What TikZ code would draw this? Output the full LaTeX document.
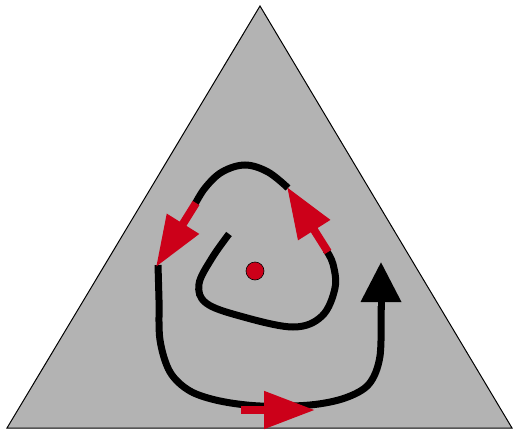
\documentclass[tikz,border=0pt]{standalone}
\usepackage{xcolor}
\usepackage{tikz}
\usetikzlibrary{
  arrows.meta,
  calc
}
\definecolor{spFill}{HTML}{B3B3B3}
\definecolor{spRed}{HTML}{CC0019}
\tikzset{
  plate/.style={draw=black, line width=1pt, fill=spFill, line join=miter},
  spiral/.style={line width=7pt, black, line cap=butt},
  redarrow/.style={-{Triangle[length=51pt, width=36pt]}, line width=8pt, spRed},
  blackarrow/.style={-{Triangle[length=40pt, width=39pt]}, line width=7pt, black},
  centre/.style={circle, fill=spRed, draw=black, line width=0.6pt, minimum size=18pt, inner sep=0pt}
}

\begin{document}
\begin{tikzpicture}[x=1pt, y=-1pt]
  \useasboundingbox (0,0) rectangle (513,433);
  % triangle
  \coordinate (top) at (260,6);
  \coordinate (bl) at (7,428);
  \coordinate (br) at (512,428);
  \draw[plate] (top) -- (br) -- (bl) -- cycle;

  \node[centre] (pole) at (255,271) {};

  % spiral, inner part to outer part
  \draw[spiral] plot[smooth, tension=0.6] coordinates {
    (229,234) (212,258) (199,284) (206,303) (240,316) (293,327)
    (322,316) (335,288) (333,264) (326,250)};
  \draw[spiral] plot[smooth, tension=0.6] coordinates {
    (288,188) (268,172) (245,165) (222,172) (205,188) (194,206)};
  \draw[spiral] plot[smooth, tension=0.55] coordinates {
    (158,265) (159,300) (160,340) (170,372) (190,391) (220,401)
    (260,406) (310,405) (345,398) (369,384) (380,356) (381,306)};

  % arrows on the spiral
  \coordinate (ra1) at (328,252);
  \coordinate (rt1) at (287,187);
  \coordinate (ra2) at (196,203);
  \coordinate (rt2) at (156,267);
  \coordinate (ra3) at (241,410);
  \coordinate (rt3) at (315,410);
  \coordinate (ba) at (381,310);
  \coordinate (bt) at (381,262);
  \draw[redarrow] (ra1) -- (rt1);
  \draw[redarrow] (ra2) -- (rt2);
  \draw[redarrow] (ra3) -- (rt3);
  \draw[blackarrow] (ba) -- (bt);
\end{tikzpicture}
\end{document}
